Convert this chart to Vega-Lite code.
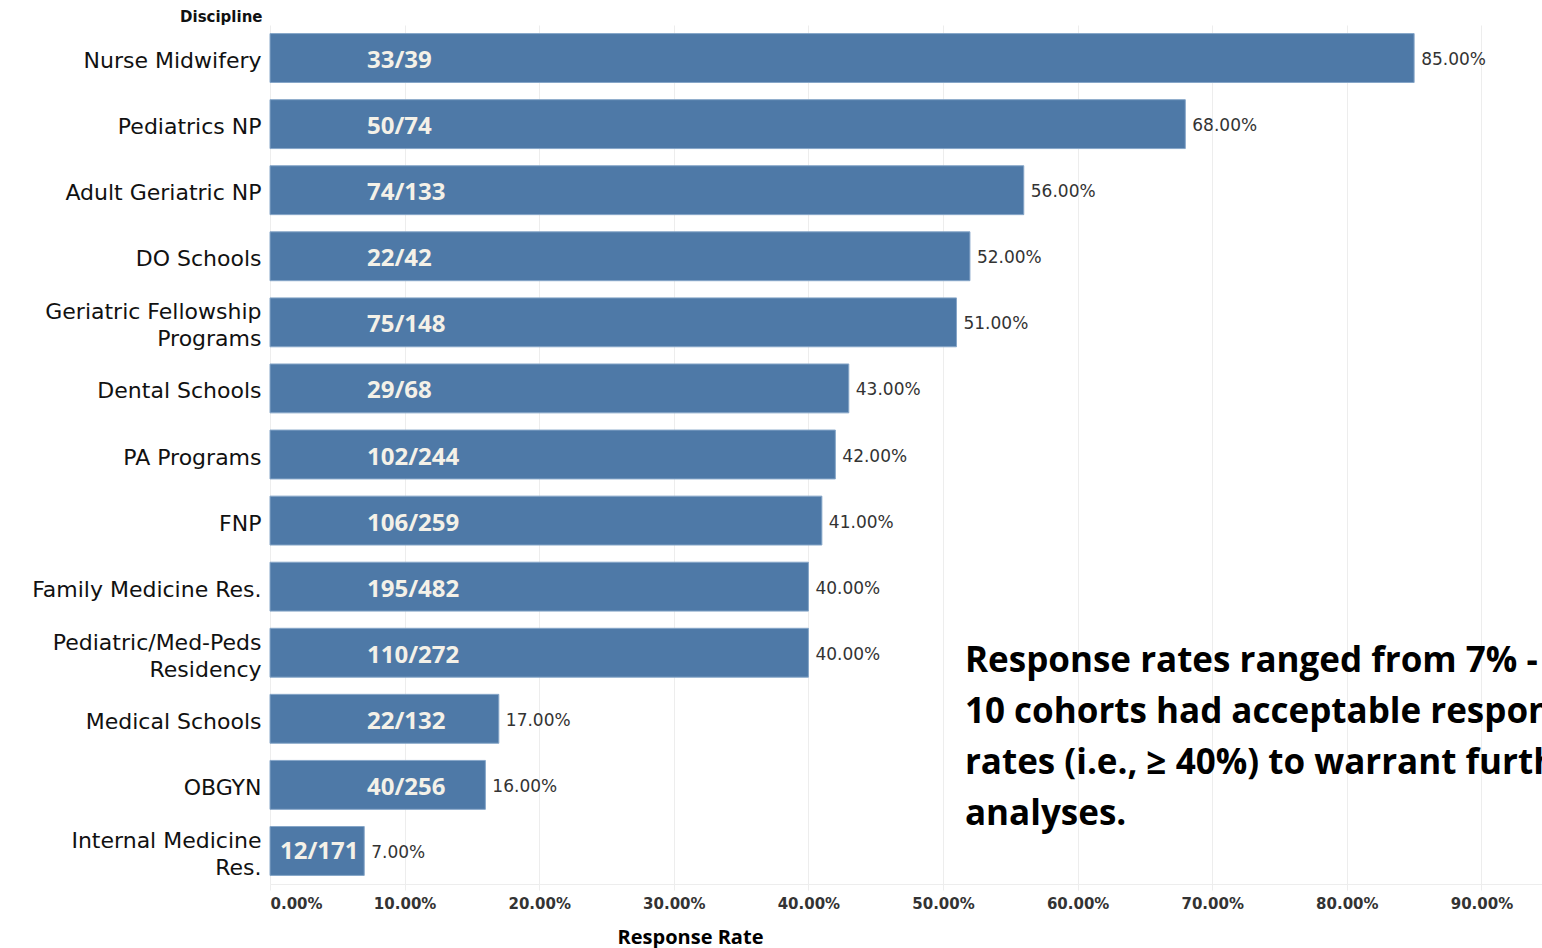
{
  "$schema": "https://vega.github.io/schema/vega-lite/v6.json",
  "width": 1272,
  "height": 859,
  "autosize": {"type": "none"},
  "padding": {"left": 270, "top": 25, "right": 0, "bottom": 64},
  "background": "white",
  "config": {"view": {"stroke": null}},
  "datasets": {
    "rates": [
      {"discipline": "Nurse Midwifery", "rate": 0.85, "label": "33/39"},
      {"discipline": "Pediatrics NP", "rate": 0.68, "label": "50/74"},
      {"discipline": "Adult Geriatric NP", "rate": 0.56, "label": "74/133"},
      {"discipline": "DO Schools", "rate": 0.52, "label": "22/42"},
      {"discipline": "Geriatric Fellowship Programs", "rate": 0.51, "label": "75/148"},
      {"discipline": "Dental Schools", "rate": 0.43, "label": "29/68"},
      {"discipline": "PA Programs", "rate": 0.42, "label": "102/244"},
      {"discipline": "FNP", "rate": 0.41, "label": "106/259"},
      {"discipline": "Family Medicine Res.", "rate": 0.40, "label": "195/482"},
      {"discipline": "Pediatric/Med-Peds Residency", "rate": 0.40, "label": "110/272"},
      {"discipline": "Medical Schools", "rate": 0.17, "label": "22/132"},
      {"discipline": "OBGYN", "rate": 0.16, "label": "40/256"},
      {"discipline": "Internal Medicine Res.", "rate": 0.07, "label": "12/171"}
    ],
    "note": [
      {"text": "Response rates ranged from 7% - 85%.\n10 cohorts had acceptable response\nrates (i.e., ≥ 40%) to warrant further\nanalyses."}
    ]
  },
  "encoding": {
    "y": {
      "field": "discipline",
      "type": "nominal",
      "sort": null,
      "scale": {
        "domain": ["Nurse Midwifery", "Pediatrics NP", "Adult Geriatric NP", "DO Schools", "Geriatric Fellowship Programs", "Dental Schools", "PA Programs", "FNP", "Family Medicine Res.", "Pediatric/Med-Peds Residency", "Medical Schools", "OBGYN", "Internal Medicine Res."],
        "paddingInner": 0.26,
        "paddingOuter": 0.13
      },
      "axis": {
        "title": "Discipline",
        "titleAngle": 0,
        "titleAlign": "right",
        "titleBaseline": "middle",
        "titleX": -8,
        "titleY": -9,
        "titleFont": "DejaVu Sans",
        "titleFontSize": 15,
        "titleFontWeight": "bold",
        "titleColor": "#111111",
        "domain": false,
        "ticks": false,
        "grid": false,
        "labelPadding": 9,
        "labelFont": "DejaVu Sans",
        "labelFontSize": 22,
        "labelColor": "#111111",
        "labelLimit": 400,
        "labelLineHeight": 27,
        "labelOffset": {
          "condition": {"test": "indexof(['Geriatric Fellowship Programs', 'Pediatric/Med-Peds Residency', 'Internal Medicine Res.'], datum.value) >= 0", "value": -10},
          "value": 3
        },
        "labelExpr": "datum.value == 'Geriatric Fellowship Programs' ? ['Geriatric Fellowship', 'Programs'] : datum.value == 'Pediatric/Med-Peds Residency' ? ['Pediatric/Med-Peds', 'Residency'] : datum.value == 'Internal Medicine Res.' ? ['Internal Medicine', 'Res.'] : datum.value"
      }
    }
  },
  "layer": [
    {
      "data": {"name": "rates"},
      "mark": {"type": "bar", "color": "#4e79a7", "stroke": "#86a6c8", "strokeWidth": 1},
      "encoding": {
        "x": {
          "field": "rate",
          "type": "quantitative",
          "scale": {"domain": [0, 0.945], "nice": false, "zero": true},
          "axis": {
            "format": ".2%",
            "values": [0, 0.1, 0.2, 0.3, 0.4, 0.5, 0.6, 0.7, 0.8, 0.9],
            "labelFlush": true,
            "grid": true,
            "gridColor": "#ededed",
            "domainColor": "#ededed",
            "tickColor": "#ededed",
            "tickSize": 6,
            "labelPadding": 6,
            "labelFont": "DejaVu Sans",
            "labelFontWeight": "bold",
            "labelFontSize": 15,
            "labelColor": "#333333",
            "title": "Response Rate",
            "titleFont": "Open Sans",
            "titleFontSize": 20,
            "titleFontWeight": "bold",
            "titleColor": "#000000",
            "titleX": 420,
            "titleY": 53,
            "titleAlign": "center",
            "titleBaseline": "middle"
          }
        }
      }
    },
    {
      "data": {"name": "rates"},
      "transform": [{"filter": "datum.rate >= 0.1"}],
      "mark": {"type": "text", "align": "left", "baseline": "middle", "dx": 97, "dy": 3, "font": "Open Sans", "fontWeight": "bold", "fontSize": 24, "color": "#f4f1e8"},
      "encoding": {
        "x": {"datum": 0, "type": "quantitative"},
        "text": {"field": "label", "type": "nominal"}
      }
    },
    {
      "data": {"name": "rates"},
      "transform": [{"filter": "datum.rate < 0.1"}],
      "mark": {"type": "text", "align": "left", "baseline": "middle", "dx": 10, "dy": 1, "font": "Open Sans", "fontWeight": "bold", "fontSize": 24, "color": "#f4f1e8"},
      "encoding": {
        "x": {"datum": 0, "type": "quantitative"},
        "text": {"field": "label", "type": "nominal"}
      }
    },
    {
      "data": {"name": "rates"},
      "mark": {"type": "text", "align": "left", "baseline": "middle", "dx": 7, "dy": 2, "font": "DejaVu Sans", "fontSize": 17, "color": "#333333"},
      "encoding": {
        "x": {"field": "rate", "type": "quantitative"},
        "text": {"field": "rate", "type": "quantitative", "format": ".2%"}
      }
    },
    {
      "data": {"name": "note"},
      "mark": {"type": "text", "align": "left", "baseline": "alphabetic", "dy": 19, "font": "Open Sans", "fontWeight": "bold", "fontSize": 35, "lineHeight": 51, "lineBreak": "\n", "color": "#000000"},
      "encoding": {
        "x": {"datum": 0.5163, "type": "quantitative"},
        "y": {"datum": "Pediatric/Med-Peds Residency", "type": "nominal"},
        "text": {"field": "text", "type": "nominal"}
      }
    }
  ]
}
